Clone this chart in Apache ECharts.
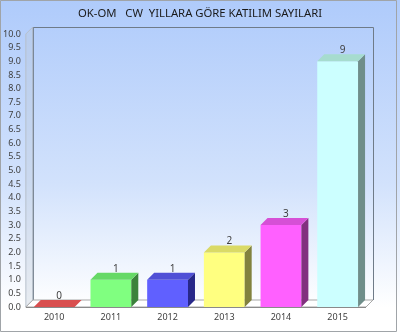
<!DOCTYPE html>
<html><head><meta charset="utf-8">
<script src="https://cdn.jsdelivr.net/npm/echarts@6/dist/echarts.min.js"></script>
<style>html,body{margin:0;padding:0;background:#fff}#c{width:400px;height:334px}</style>
</head><body><div id="c"></div>
<script>
const categories = ['2010','2011','2012','2013','2014','2015'];
const values = [0, 1, 1, 2, 3, 9];
const yTicks = {min: 0, max: 10, interval: 0.5};
const titleText = 'OK-OM   CW  YILLARA GÖRE KATILIM SAYILARI';

const frontColors = ['#d94f4f','#80ff80','#6060ff','#ffff80','#ff60ff','#ccffff'];
const topColors   = ['#e06262','#66d966','#5050d6','#dada66','#d650d6','#a6dccf'];
const sideColors  = ['#a03a3a','#3c823c','#28288a','#82823e','#82307f','#6f8e8a'];
const DX = 7, DY = -7;

const chart = echarts.init(document.getElementById('c'), null, {renderer:'canvas'});
chart.setOption({
  animation: false,
  backgroundColor: {type:'linear', x:0, y:0, x2:0, y2:1, colorStops:[
    {offset:0, color:'#afcbfb'}, {offset:0.55, color:'#d2e2fc'}, {offset:0.92, color:'#ffffff'}, {offset:1, color:'#ffffff'}]},
  title: {text: titleText, left: 'center', top: 3,
    textStyle: {fontFamily:'Noto Sans', fontSize: 11.3, fontWeight:'normal', color:'#1a1a1a'}},
  graphic: [{type:'rect', shape:{x:0.5, y:0.5, width:396, height:331},
    style:{fill:'none', stroke:'#a0a4a8', lineWidth:1}, z:100}],
  grid: {left: 24, right: 34, top: 34, bottom: 27},
  xAxis: {type:'category', data: categories,
    axisLine:{show:false}, axisTick:{show:false},
    axisLabel:{fontFamily:'Noto Sans', fontSize:9, color:'#404040', margin:6}},
  yAxis: {type:'value', min: yTicks.min, max: yTicks.max, interval: yTicks.interval,
    axisLine:{show:false}, axisTick:{show:false}, splitLine:{show:false},
    axisLabel:{fontFamily:'Noto Sans', fontSize:9, color:'#404040', margin:5,
      formatter: v => v.toFixed(1)}},
  series: [
    {type:'custom', z:1, data:[0], silent:true,
     renderItem: function(params, api){
       const cs = params.coordSys;
       const x = cs.x, y = cs.y, w = cs.width, h = cs.height;
       return {type:'group', children:[
         {type:'polygon', shape:{points:[[x,y],[x+DX,y+DY],[x+DX,y+h+DY],[x,y+h]]},
          style:{fill:'rgba(190,200,215,0.35)', stroke:'#b8c0cc', lineWidth:1}},
         {type:'polyline', shape:{points:[[x+DX+0.5,y+h+DY],[x+DX+0.5,y+DY+0.5],[x+w+DX+0.5,y+DY+0.5],[x+w+DX+0.5,y+h+DY]]},
          style:{fill:'none', stroke:'#6f7b88', lineWidth:1}},
         {type:'polygon', shape:{points:[[x,y+h],[x+DX,y+h+DY],[x+w+DX,y+h+DY],[x+w,y+h]]},
          style:{fill:'#ffffff', stroke:'#a8a8a8', lineWidth:1}},
         {type:'line', shape:{x1:x, y1:y+h+0.5, x2:x+w, y2:y+h+0.5},
          style:{stroke:'#8a8a8a', lineWidth:1}}
       ]};
     }},
    {type:'custom', z:2, data: values.map((v,i)=>[i,v]), silent:true,
     encode:{x:0, y:1},
     renderItem: function(params, api){
       const i = api.value(0), v = api.value(1);
       const top = api.coord([i, v]);
       const base = api.coord([i, 0]);
       const bw = api.size([1,0])[0] * 0.72;
       const l = top[0] - bw/2, r = top[0] + bw/2;
       const t = top[1], b = base[1];
       const children = [];
       if (t < b - 0.5) {
         children.push({type:'rect', shape:{x:l, y:t, width:bw, height:b-t},
           style:{fill:frontColors[i]}});
         children.push({type:'polygon', shape:{points:[[r,t],[r+DX,t+DY],[r+DX,b+DY],[r,b]]},
           style:{fill:sideColors[i]}});
       }
       children.push({type:'polygon', shape:{points:[[l,t],[l+DX,t+DY],[r+DX,t+DY],[r,t]]},
         style:{fill: t < b - 0.5 ? topColors[i] : frontColors[i]}});
       children.push({type:'text', style:{text:String(v), x:top[0]+5, y:t+DY+1,
         align:'center', verticalAlign:'bottom', fontFamily:'Noto Sans', fontSize:10, fill:'#404040'}});
       return {type:'group', children};
     }}
  ]
});
</script></body></html>
